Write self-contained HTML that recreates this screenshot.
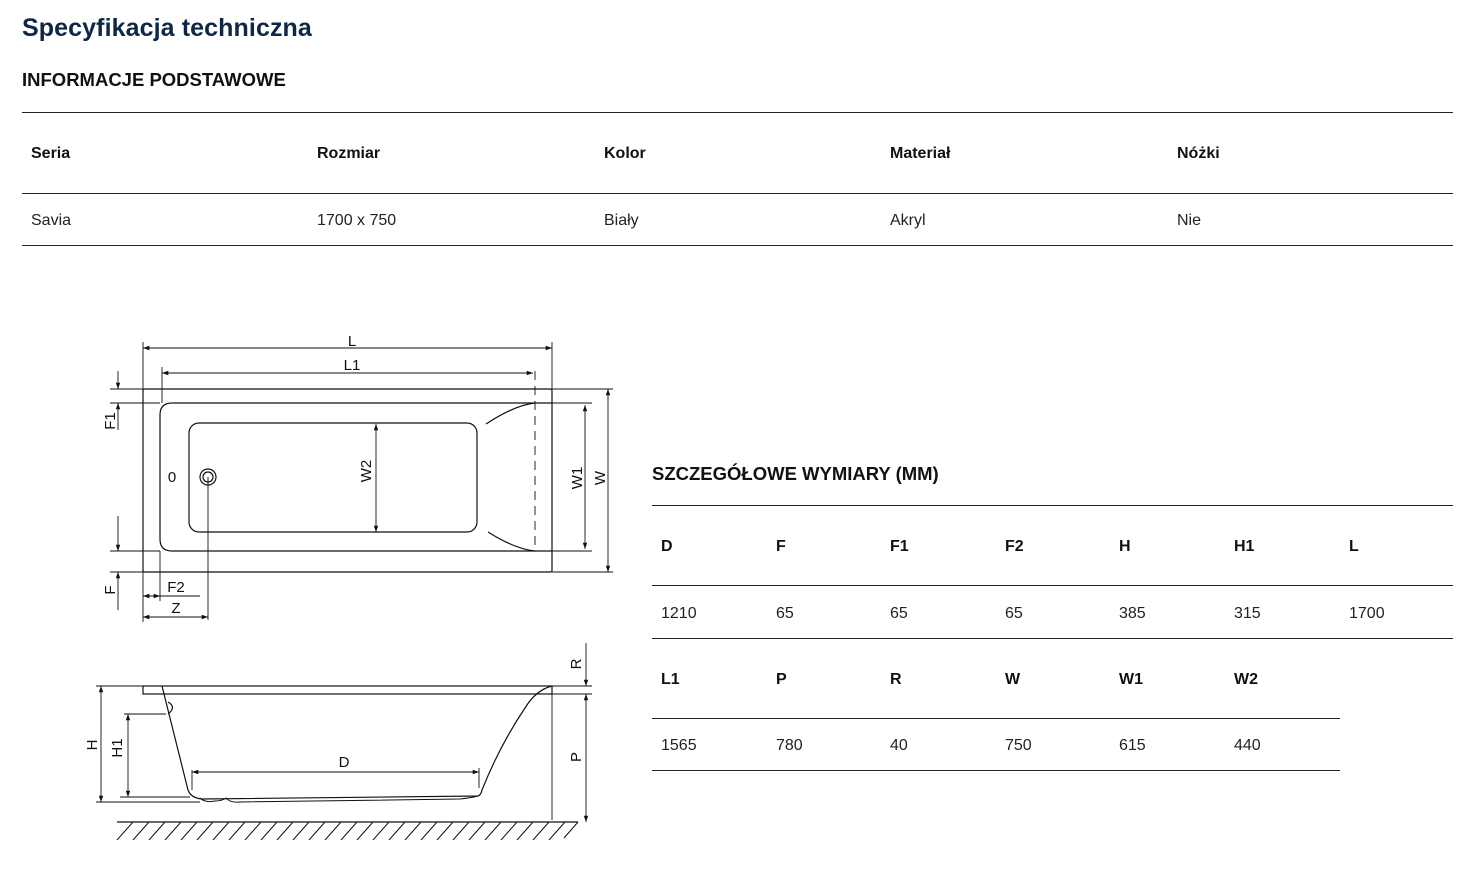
<!DOCTYPE html>
<html><head><meta charset="utf-8">
<style>
html,body{margin:0;padding:0;background:#fff;}
body{width:1478px;height:870px;position:relative;overflow:hidden;font-family:"Liberation Sans",sans-serif;color:#111;}
.t{position:absolute;white-space:nowrap;line-height:1;}
.h1{font-size:25px;font-weight:bold;color:#0e2747;letter-spacing:0.1px;}
.h2{font-size:18.5px;font-weight:bold;color:#111;}
.b{font-size:16px;font-weight:bold;}
.v{font-size:16px;color:#222;}
.ln{position:absolute;height:1px;background:#222;}
</style></head><body>
<div class="t h1" style="left:22px;top:16px">Specyfikacja techniczna</div>
<div class="t h2" style="left:22px;top:71px">INFORMACJE PODSTAWOWE</div>
<div class="ln" style="left:22px;top:112px;width:1431px"></div>
<div class="ln" style="left:22px;top:193px;width:1431px"></div>
<div class="ln" style="left:22px;top:245px;width:1431px"></div>
<div class="t b" style="left:31px;top:146px">Seria</div>
<div class="t b" style="left:317px;top:146px">Rozmiar</div>
<div class="t b" style="left:604px;top:146px">Kolor</div>
<div class="t b" style="left:890px;top:146px">Materiał</div>
<div class="t b" style="left:1177px;top:146px">Nóżki</div>
<div class="t v" style="left:31px;top:213px">Savia</div>
<div class="t v" style="left:317px;top:213px">1700 x 750</div>
<div class="t v" style="left:604px;top:213px">Biały</div>
<div class="t v" style="left:890px;top:213px">Akryl</div>
<div class="t v" style="left:1177px;top:213px">Nie</div>

<div class="t h2" style="left:652px;top:465px">SZCZEGÓŁOWE WYMIARY (MM)</div>
<div class="ln" style="left:652px;top:505px;width:801px"></div>
<div class="ln" style="left:652px;top:585px;width:801px"></div>
<div class="ln" style="left:652px;top:638px;width:801px"></div>
<div class="ln" style="left:652px;top:718px;width:688px"></div>
<div class="ln" style="left:652px;top:770px;width:688px"></div>
<div class="t b" style="left:661px;top:539px">D</div>
<div class="t b" style="left:776px;top:539px">F</div>
<div class="t b" style="left:890px;top:539px">F1</div>
<div class="t b" style="left:1005px;top:539px">F2</div>
<div class="t b" style="left:1119px;top:539px">H</div>
<div class="t b" style="left:1234px;top:539px">H1</div>
<div class="t b" style="left:1349px;top:539px">L</div>
<div class="t v" style="left:661px;top:606px">1210</div>
<div class="t v" style="left:776px;top:606px">65</div>
<div class="t v" style="left:890px;top:606px">65</div>
<div class="t v" style="left:1005px;top:606px">65</div>
<div class="t v" style="left:1119px;top:606px">385</div>
<div class="t v" style="left:1234px;top:606px">315</div>
<div class="t v" style="left:1349px;top:606px">1700</div>
<div class="t b" style="left:661px;top:672px">L1</div>
<div class="t b" style="left:776px;top:672px">P</div>
<div class="t b" style="left:890px;top:672px">R</div>
<div class="t b" style="left:1005px;top:672px">W</div>
<div class="t b" style="left:1119px;top:672px">W1</div>
<div class="t b" style="left:1234px;top:672px">W2</div>
<div class="t v" style="left:661px;top:738px">1565</div>
<div class="t v" style="left:776px;top:738px">780</div>
<div class="t v" style="left:890px;top:738px">40</div>
<div class="t v" style="left:1005px;top:738px">750</div>
<div class="t v" style="left:1119px;top:738px">615</div>
<div class="t v" style="left:1234px;top:738px">440</div>

<svg width="1478" height="870" style="position:absolute;left:0;top:0" xmlns="http://www.w3.org/2000/svg">
<defs>
<marker id="a" viewBox="0 0 10 10" refX="10" refY="5" markerWidth="7" markerHeight="7" orient="auto-start-reverse"><path d="M0,1.5 L10,5 L0,8.5 z" fill="#111"/></marker>
</defs>
<g stroke="#111" stroke-width="1.2" fill="none">
<rect x="143" y="389" width="409" height="183" rx="1.5"/>
<path d="M552,403 H172 Q160,403 160,415 V539 Q160,551 172,551 H552"/>
<rect x="189" y="423" width="288" height="109" rx="10"/>
<path d="M486,424 Q515,405 535,403"/>
<path d="M488,532 Q515,549 535,551"/>
<line x1="535" y1="371" x2="535" y2="551" stroke-dasharray="9,6" stroke-width="0.9"/>
<circle cx="208" cy="477" r="8"/><circle cx="208" cy="477" r="5"/>
<line x1="208" y1="477" x2="208" y2="620" stroke-width="0.9"/>
<g stroke-width="0.9">
<line x1="143" y1="342" x2="143" y2="389"/><line x1="552" y1="342" x2="552" y2="389"/>
<line x1="143" y1="348" x2="552" y2="348" marker-start="url(#a)" marker-end="url(#a)"/>
<line x1="162" y1="367" x2="162" y2="403"/>
<line x1="162" y1="373" x2="533" y2="373" marker-start="url(#a)" marker-end="url(#a)"/>
<line x1="110" y1="389" x2="143" y2="389"/><line x1="110" y1="403" x2="160" y2="403"/>
<line x1="118" y1="371" x2="118" y2="389" marker-end="url(#a)"/>
<line x1="118" y1="430" x2="118" y2="403" marker-end="url(#a)"/>
<line x1="110" y1="551" x2="160" y2="551"/><line x1="110" y1="572" x2="143" y2="572"/>
<line x1="118" y1="516" x2="118" y2="551" marker-end="url(#a)"/>
<line x1="118" y1="610" x2="118" y2="572" marker-end="url(#a)"/>
<line x1="143" y1="572" x2="143" y2="622"/><line x1="160" y1="551" x2="160" y2="601"/>
<line x1="143" y1="596" x2="160" y2="596" marker-start="url(#a)" marker-end="url(#a)"/>
<line x1="160" y1="596" x2="200" y2="596"/>
<line x1="143" y1="617" x2="208" y2="617" marker-start="url(#a)" marker-end="url(#a)"/>
<line x1="552" y1="389" x2="613" y2="389"/><line x1="552" y1="572" x2="613" y2="572"/>
<line x1="608" y1="389" x2="608" y2="572" marker-start="url(#a)" marker-end="url(#a)"/>
<line x1="552" y1="403" x2="592" y2="403"/><line x1="552" y1="551" x2="592" y2="551"/>
<line x1="585" y1="405" x2="585" y2="549" marker-start="url(#a)" marker-end="url(#a)"/>
<line x1="376" y1="424" x2="376" y2="532" marker-start="url(#a)" marker-end="url(#a)"/>
</g>
<rect x="143" y="686" width="409" height="8"/>
<path d="M162,686 L188,790 Q191,798 202,799 L478,796 Q481,795 482,790 Q500,745 525,708 Q536,690 552,686"/>
<path d="M200,798 Q205,803 215,801 Q222,801 226,798 Q230,803 240,802 L460,799 Q470,798 478,796" stroke-width="1"/>
<path d="M168,702 Q177,707 168,714" />
<g stroke-width="0.9">
<line x1="96" y1="686" x2="143" y2="686"/><line x1="96" y1="802" x2="200" y2="802"/>
<line x1="101" y1="686" x2="101" y2="802" marker-start="url(#a)" marker-end="url(#a)"/>
<line x1="124" y1="714" x2="166" y2="714"/><line x1="120" y1="797" x2="190" y2="797"/>
<line x1="128" y1="714" x2="128" y2="797" marker-start="url(#a)" marker-end="url(#a)"/>
<line x1="192" y1="772" x2="479" y2="772" marker-start="url(#a)" marker-end="url(#a)"/>
<line x1="192" y1="770" x2="192" y2="790"/><line x1="479" y1="768" x2="479" y2="788"/>
<line x1="552" y1="694" x2="552" y2="820"/>
<line x1="552" y1="686" x2="592" y2="686"/><line x1="552" y1="694" x2="592" y2="694"/>
<line x1="586" y1="643" x2="586" y2="686" marker-end="url(#a)"/>
<line x1="586" y1="694" x2="586" y2="822" marker-start="url(#a)" marker-end="url(#a)"/>
</g>
<line x1="117" y1="822" x2="578" y2="822" stroke-width="1.3"/>
<path stroke-width="1" d="M133,822 l-16,18 M149,822 l-16,18 M165,822 l-16,18 M181,822 l-16,18 M197,822 l-16,18 M213,822 l-16,18 M229,822 l-16,18 M245,822 l-16,18 M261,822 l-16,18 M277,822 l-16,18 M293,822 l-16,18 M309,822 l-16,18 M325,822 l-16,18 M341,822 l-16,18 M357,822 l-16,18 M373,822 l-16,18 M389,822 l-16,18 M405,822 l-16,18 M421,822 l-16,18 M437,822 l-16,18 M453,822 l-16,18 M469,822 l-16,18 M485,822 l-16,18 M501,822 l-16,18 M517,822 l-16,18 M533,822 l-16,18 M549,822 l-16,18 M565,822 l-16,18 M578,822 l-14,16"/>
</g>
<g font-family="Liberation Sans, sans-serif" font-size="15" fill="#111" text-anchor="middle">
<text x="352" y="346">L</text>
<text x="352" y="370">L1</text>
<text x="172" y="482">0</text>
<text x="176" y="592">F2</text>
<text x="176" y="613">Z</text>
<text x="344" y="767">D</text>
<text transform="translate(115,421) rotate(-90)">F1</text>
<text transform="translate(115,590) rotate(-90)">F</text>
<text transform="translate(371,471) rotate(-90)">W2</text>
<text transform="translate(582,478) rotate(-90)">W1</text>
<text transform="translate(605,478) rotate(-90)">W</text>
<text transform="translate(97,745) rotate(-90)">H</text>
<text transform="translate(122,748) rotate(-90)">H1</text>
<text transform="translate(581,664) rotate(-90)">R</text>
<text transform="translate(581,757) rotate(-90)">P</text>
</g>
</svg>
</body></html>
